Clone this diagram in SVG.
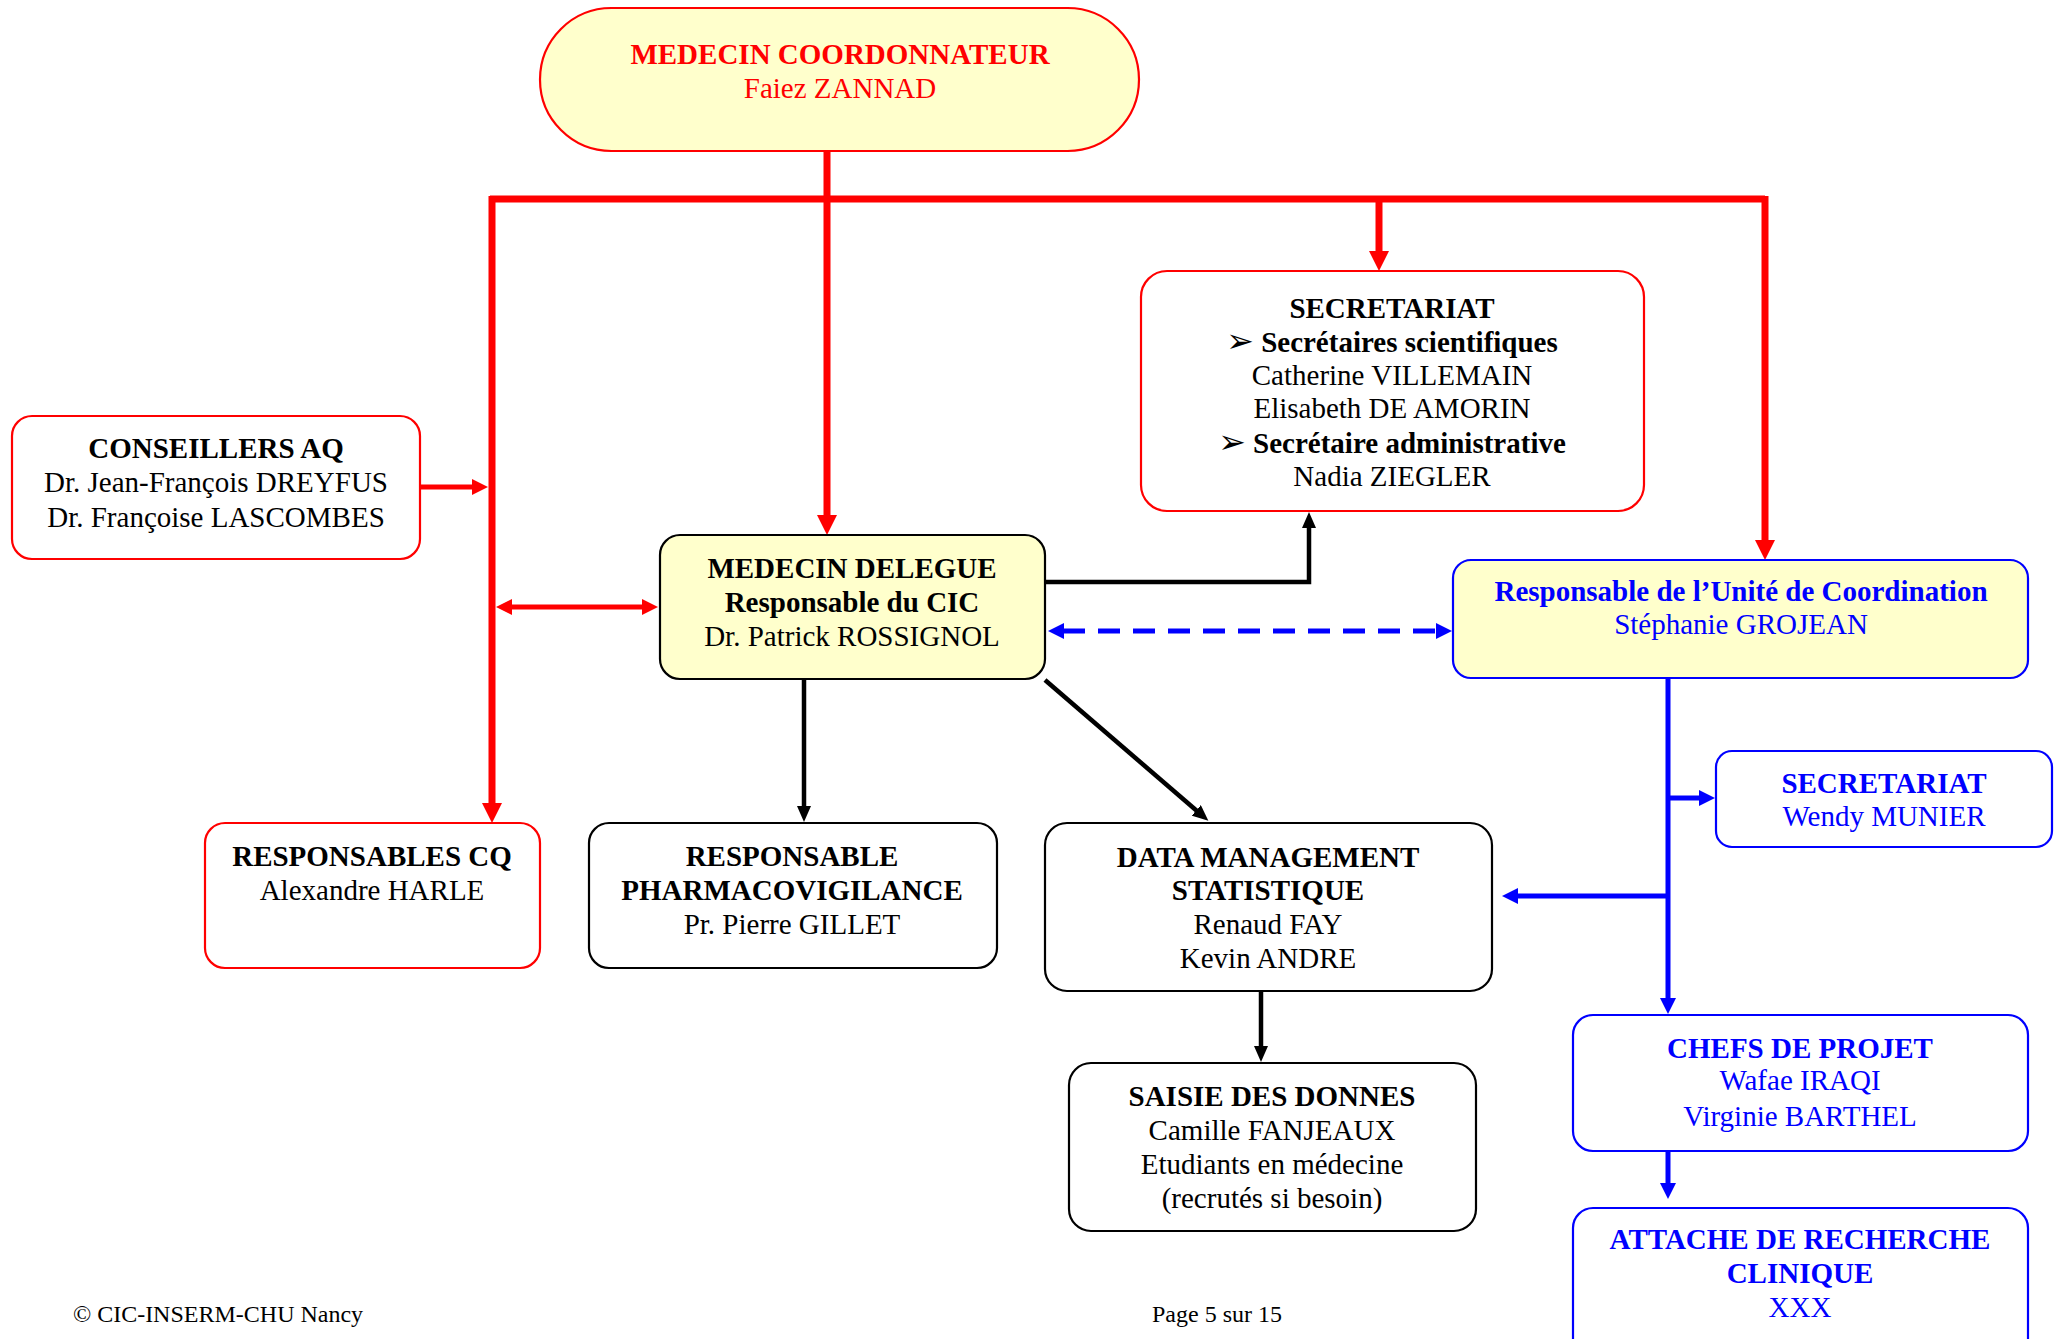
<svg xmlns="http://www.w3.org/2000/svg" width="2056" height="1339" viewBox="0 0 2056 1339">
<style>
text{font-family:"Liberation Serif","Times New Roman","DejaVu Sans",serif;font-size:29px;text-anchor:middle}
.b{font-weight:bold}
.r{fill:#FF0000}.k{fill:#000}.u{fill:#0000FF}
.box{stroke-width:2.2}
.rs{stroke:#FF0000}.ks{stroke:#000}.us{stroke:#0000FF}
.w{fill:#fff}.y{fill:#FFFFCC}
.foot{font-size:24px}
.ar{font-size:33px}
</style>
<defs>
<marker id="ra" markerUnits="userSpaceOnUse" markerWidth="22" markerHeight="20" refX="1" refY="10" orient="auto-start-reverse"><path d="M0,0 L20,10 L0,20 z" fill="#FF0000"/></marker>
<marker id="ras" markerUnits="userSpaceOnUse" markerWidth="18" markerHeight="16" refX="1" refY="8" orient="auto-start-reverse"><path d="M0,0 L16,8 L0,16 z" fill="#FF0000"/></marker>
<marker id="ka" markerUnits="userSpaceOnUse" markerWidth="18" markerHeight="14" refX="1" refY="7" orient="auto-start-reverse"><path d="M0,0 L16,7 L0,14 z" fill="#000"/></marker>
<marker id="ua" markerUnits="userSpaceOnUse" markerWidth="18" markerHeight="16" refX="1" refY="8" orient="auto-start-reverse"><path d="M0,0 L16,8 L0,16 z" fill="#0000FF"/></marker>
</defs>
<rect width="2056" height="1339" fill="#fff"/>
<g id="connectors" fill="none">
<g stroke="#FF0000" stroke-width="7">
<path d="M827,151 V516" marker-end="url(#ra)"/>
<path d="M490,199 H1765"/>
<path d="M492,196 V804" marker-end="url(#ra)"/>
<path d="M1379,199 V252" marker-end="url(#ra)"/>
<path d="M1765,196 V541" marker-end="url(#ra)"/>
</g>
<g stroke="#FF0000" stroke-width="5">
<path d="M420,487 H473" marker-end="url(#ras)"/>
<path d="M511,607 H643" marker-start="url(#ras)" marker-end="url(#ras)"/>
</g>
<g stroke="#000" stroke-width="4.5">
<path d="M1045,582 H1309 V527" marker-end="url(#ka)"/>
<path d="M804,679 V807" marker-end="url(#ka)"/>
<path d="M1045,680 L1197,811" marker-end="url(#ka)"/>
<path d="M1261,991 V1047" marker-end="url(#ka)"/>
</g>
<g stroke="#0000FF" stroke-width="5">
<path d="M1063,631 H1437" stroke-dasharray="22 13" marker-start="url(#ua)" marker-end="url(#ua)"/>
<path d="M1668,678 V999" marker-end="url(#ua)"/>
<path d="M1668,798 H1700" marker-end="url(#ua)"/>
<path d="M1668,896 H1517" marker-end="url(#ua)"/>
<path d="M1668,1151 V1184" marker-end="url(#ua)"/>
</g>
</g>
<g id="medecin-coordonnateur">
<rect x="540" y="8" width="599" height="143" rx="71.5" class="box rs y"/>
<text x="840" y="64" class="b r">MEDECIN COORDONNATEUR</text>
<text x="840" y="98" class="r">Faiez ZANNAD</text>
</g>
<g id="secretariat">
<rect x="1141" y="271" width="503" height="240" rx="26" class="box rs w"/>
<text x="1392" y="318" class="b k">SECRETARIAT</text>
<text x="1392" y="352" class="b k"><tspan class="ar">➢</tspan> Secrétaires scientifiques</text>
<text x="1392" y="385" class="k">Catherine VILLEMAIN</text>
<text x="1392" y="418" class="k">Elisabeth DE AMORIN</text>
<text x="1392" y="453" class="b k"><tspan class="ar">➢</tspan> Secrétaire administrative</text>
<text x="1392" y="486" class="k">Nadia ZIEGLER</text>
</g>
<g id="conseillers-aq">
<rect x="12" y="416" width="408" height="143" rx="20" class="box rs w"/>
<text x="216" y="458" class="b k">CONSEILLERS AQ</text>
<text x="216" y="492" class="k">Dr. Jean-François DREYFUS</text>
<text x="216" y="527" class="k">Dr. Françoise LASCOMBES</text>
</g>
<g id="medecin-delegue">
<rect x="660" y="535" width="385" height="144" rx="20" class="box ks y"/>
<text x="852" y="578" class="b k">MEDECIN DELEGUE</text>
<text x="852" y="612" class="b k">Responsable du CIC</text>
<text x="852" y="646" class="k">Dr. Patrick ROSSIGNOL</text>
</g>
<g id="responsable-unite">
<rect x="1453" y="560" width="575" height="118" rx="18" class="box us y"/>
<text x="1741" y="601" class="b u">Responsable de l’Unité de Coordination</text>
<text x="1741" y="634" class="u">Stéphanie GROJEAN</text>
</g>
<g id="secretariat-wendy">
<rect x="1716" y="751" width="336" height="96" rx="16" class="box us w"/>
<text x="1884" y="793" class="b u">SECRETARIAT</text>
<text x="1884" y="826" class="u">Wendy MUNIER</text>
</g>
<g id="responsables-cq">
<rect x="205" y="823" width="335" height="145" rx="20" class="box rs w"/>
<text x="372" y="866" class="b k">RESPONSABLES CQ</text>
<text x="372" y="900" class="k">Alexandre HARLE</text>
</g>
<g id="pharmacovigilance">
<rect x="589" y="823" width="408" height="145" rx="20" class="box ks w"/>
<text x="792" y="866" class="b k">RESPONSABLE</text>
<text x="792" y="900" class="b k">PHARMACOVIGILANCE</text>
<text x="792" y="934" class="k">Pr. Pierre GILLET</text>
</g>
<g id="data-management">
<rect x="1045" y="823" width="447" height="168" rx="22" class="box ks w"/>
<text x="1268" y="867" class="b k">DATA MANAGEMENT</text>
<text x="1268" y="900" class="b k">STATISTIQUE</text>
<text x="1268" y="934" class="k">Renaud FAY</text>
<text x="1268" y="968" class="k">Kevin ANDRE</text>
</g>
<g id="saisie">
<rect x="1069" y="1063" width="407" height="168" rx="22" class="box ks w"/>
<text x="1272" y="1106" class="b k">SAISIE DES DONNES</text>
<text x="1272" y="1140" class="k">Camille FANJEAUX</text>
<text x="1272" y="1174" class="k">Etudiants en médecine</text>
<text x="1272" y="1208" class="k">(recrutés si besoin)</text>
</g>
<g id="chefs-projet">
<rect x="1573" y="1015" width="455" height="136" rx="20" class="box us w"/>
<text x="1800" y="1058" class="b u">CHEFS DE PROJET</text>
<text x="1800" y="1090" class="u">Wafae IRAQI</text>
<text x="1800" y="1126" class="u">Virginie BARTHEL</text>
</g>
<g id="attache-recherche">
<rect x="1573" y="1208" width="455" height="160" rx="20" class="box us w"/>
<text x="1800" y="1249" class="b u">ATTACHE DE RECHERCHE</text>
<text x="1800" y="1283" class="b u">CLINIQUE</text>
<text x="1800" y="1317" class="u">XXX</text>
</g>
<g id="footer">
<text x="218" y="1322" class="foot k">© CIC-INSERM-CHU Nancy</text>
<text x="1217" y="1322" class="foot k">Page 5 sur 15</text>
</g>
</svg>
